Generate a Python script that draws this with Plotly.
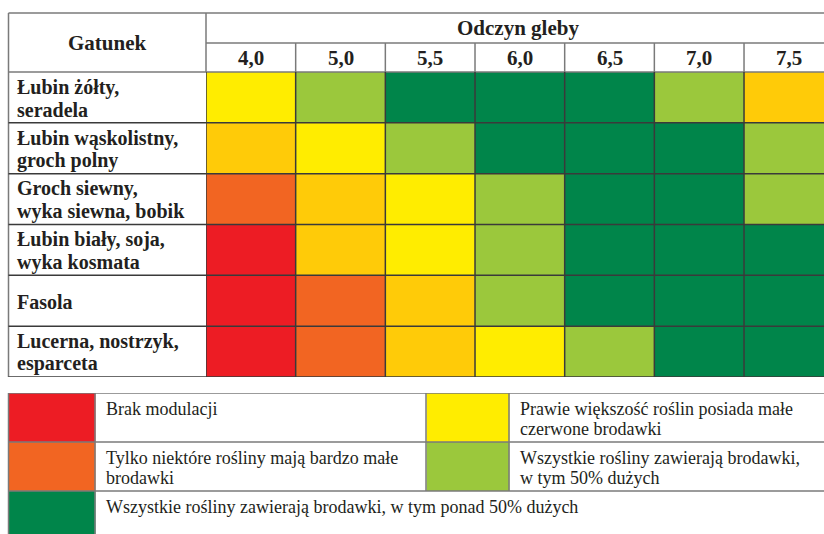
import plotly.graph_objects as go

# dane z tabeli
species = ["Łubin żółty,<br>seradela",
           "Łubin wąskolistny,<br>groch polny",
           "Groch siewny,<br>wyka siewna, bobik",
           "Łubin biały, soja,<br>wyka kosmata",
           "Fasola",
           "Lucerna, nostrzyk,<br>esparceta"]
ph_labels = ["4,0", "5,0", "5,5", "6,0", "6,5", "7,0", "7,5"]

# 0 czerwony, 1 pomaranczowy, 2 zolto-pomaranczowy, 3 zolty, 4 jasnozielony, 5 zielony
nodulation = [
    [3, 4, 5, 5, 5, 4, 2],
    [2, 3, 4, 5, 5, 5, 4],
    [1, 2, 3, 4, 5, 5, 4],
    [0, 2, 3, 4, 5, 5, 5],
    [0, 1, 2, 4, 5, 5, 5],
    [0, 1, 2, 3, 4, 5, 5],
]
class_colors = ["#ED1C24", "#F26522", "#FFCB08", "#FFED00", "#9BC83C", "#00854A"]

legend_labels = ["Brak modulacji",
                 "Tylko niektóre rośliny mają bardzo małe<br>brodawki",
                 "Wszystkie rośliny zawierają brodawki, w tym ponad 50% dużych",
                 "Prawie większość roślin posiada małe<br>czerwone brodawki",
                 "Wszystkie rośliny zawierają brodawki,<br>w tym 50% dużych"]
legend_codes = [0, 1, 5, 3, 4]
legend_row = [0, 1, 2, 0, 1]
legend_col = [0, 0, 0, 1, 1]

W, H = 824, 534
TOP, HDR_MID, HDR_BOT, TBL_BOT = 13, 43, 72, 377
LEFT, LAB_R, COLW = 8.5, 206, 89.67
LEG_TOP, LEG_ROWH = 393, 49
LEG_X = [8.5, 95, 426, 509]
LEG_TXT_X = [104, 518]
LAB_GAP = 22.5  # interlinia etykiet gatunkow

FONT = "Liberation Serif"
INK = "#231f20"
GRAY = "#7a7a7a"
DARK = "#3a3a3a"


def px(x):
    return x / W


def py(y):
    return 1 - y / H


fig = go.Figure()

fig.add_trace(go.Heatmap(
    z=nodulation, x=ph_labels, y=species,
    zmin=0, zmax=len(class_colors) - 1,
    colorscale=[[i / (len(class_colors) - 1), c] for i, c in enumerate(class_colors)],
    showscale=False, hoverinfo="skip",
    xaxis="x", yaxis="y"))

# legenda jako druga siatka
leg_z = [[None, None, None] for _ in range(3)]
for code, r, c in zip(legend_codes, legend_row, legend_col):
    leg_z[r][c * 2] = code
fig.add_trace(go.Heatmap(
    z=leg_z, x=LEG_X, y=[LEG_TOP + i * LEG_ROWH for i in range(4)],
    zmin=0, zmax=len(class_colors) - 1,
    colorscale=[[i / (len(class_colors) - 1), c] for i, c in enumerate(class_colors)],
    showscale=False, hoverinfo="skip",
    xaxis="x2", yaxis="y2"))

shapes = []


def line(x0, y0, x1, y1, color, xref="paper", yref="paper", width=1.5):
    shapes.append(dict(type="line", x0=x0, y0=y0, x1=x1, y1=y1,
                       xref=xref, yref=yref, line=dict(color=color, width=width)))


# naglowek
line(px(LEFT), py(TOP), 1, py(TOP), GRAY)
line(px(LEFT), py(TOP), px(LEFT), py(TBL_BOT), GRAY)
line(px(LAB_R), py(HDR_MID), 1, py(HDR_MID), GRAY)
line(px(LAB_R), py(TOP), px(LAB_R), py(HDR_BOT), GRAY)
line(px(LEFT), py(HDR_BOT), 1, py(HDR_BOT), GRAY)
for j in range(1, len(ph_labels)):
    line(j - 0.5, py(HDR_MID), j - 0.5, py(HDR_BOT), GRAY, xref="x")
# siatka komorek
for i in range(1, len(species) + 1):
    line(px(LEFT), i - 0.5, 1, i - 0.5, DARK, yref="y")
for j in range(len(ph_labels)):
    line(j - 0.5, py(HDR_BOT), j - 0.5, py(TBL_BOT), DARK, xref="x")
# legenda
for i in range(3):
    line(LEFT, LEG_TOP + i * LEG_ROWH, W, LEG_TOP + i * LEG_ROWH, GRAY, "x2", "y2")
for x in LEG_X[:2]:
    line(x, LEG_TOP, x, H, GRAY, "x2", "y2")
for x in LEG_X[2:]:
    line(x, LEG_TOP, x, LEG_TOP + 2 * LEG_ROWH, GRAY, "x2", "y2")

annotations = [
    dict(text="<b>Gatunek</b>", x=px((LEFT + LAB_R) / 2), y=py(43),
         xref="paper", yref="paper", xanchor="center", yanchor="middle",
         showarrow=False, font=dict(size=21)),
    dict(text="<b>Odczyn gleby</b>", x=px(518), y=py(28),
         xref="paper", yref="paper", xanchor="center", yanchor="middle",
         showarrow=False, font=dict(size=21)),
]
for lab in ph_labels:
    annotations.append(dict(text="<b>%s</b>" % lab, x=lab, y=py(58), xref="x", yref="paper",
                            xanchor="center", yanchor="middle",
                            showarrow=False, font=dict(size=21)))
# etykiety gatunkow - kazda linia osobno, ciasniejsza interlinia
for sp in species:
    parts = sp.split("<br>")
    for k, part in enumerate(parts):
        shift = (len(parts) - 1) * LAB_GAP / 2 - k * LAB_GAP - 1
        annotations.append(dict(text="<b>%s</b>" % part, x=px(15), y=sp, xref="paper", yref="y",
                                xanchor="left", yanchor="middle", align="left", showarrow=False,
                                yshift=shift, font=dict(size=20)))
for lab, r, c in zip(legend_labels, legend_row, legend_col):
    for k, part in enumerate(lab.split("<br>")):
        annotations.append(dict(text=part, x=LEG_TXT_X[c], y=LEG_TOP + r * LEG_ROWH + 16 + k * 20,
                                xref="x2", yref="y2", xanchor="left", yanchor="middle",
                                align="left", showarrow=False, font=dict(size=18)))

fig.update_layout(
    width=W, height=H,
    margin=dict(l=0, r=0, t=0, b=0),
    paper_bgcolor="white", plot_bgcolor="rgba(0,0,0,0)",
    font=dict(family=FONT, color=INK),
    showlegend=False,
    xaxis=dict(domain=[px(LAB_R), 1], range=[-0.5, -0.5 + (W - LAB_R) / COLW],
               showticklabels=False, showgrid=False, zeroline=False, ticks=""),
    yaxis=dict(domain=[py(TBL_BOT), py(HDR_BOT)], range=[len(species) - 0.5, -0.5],
               showticklabels=False, showgrid=False, zeroline=False, ticks=""),
    xaxis2=dict(domain=[0, 1], range=[0, W], anchor="y2",
                visible=False),
    yaxis2=dict(domain=[0, py(LEG_TOP)], range=[H, LEG_TOP], anchor="x2",
                visible=False),
    shapes=shapes,
    annotations=annotations,
)

fig.write_html("out.html", config={"displayModeBar": False},
               post_script="document.body.style.margin='0';document.body.style.overflow='hidden';")
